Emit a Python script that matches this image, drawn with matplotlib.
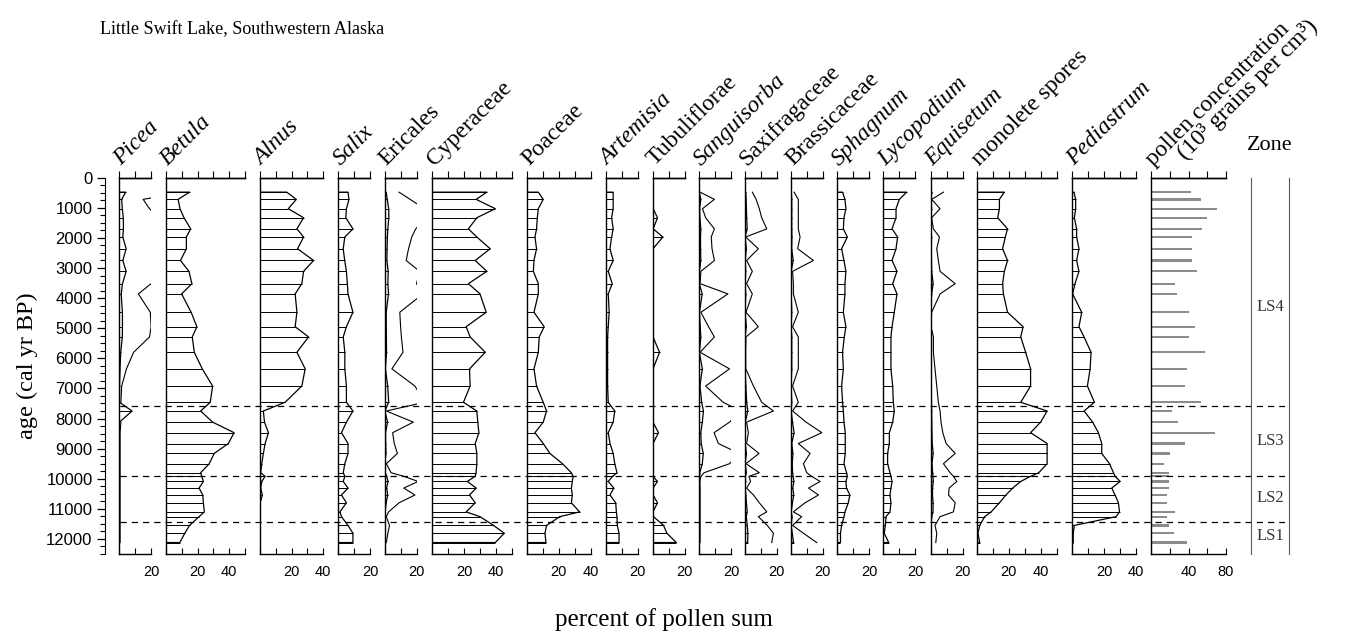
import numpy as np
import matplotlib
matplotlib.use("Agg")
import matplotlib.pyplot as plt
from matplotlib.ticker import MultipleLocator

# sample ages (cal yr BP)
ages = [480, 720, 1030, 1330, 1700, 1970, 2360, 2750, 3110, 3520, 3860, 4470,
        4950, 5290, 5800, 6350, 6920, 7460, 7750, 8120, 8470, 8830, 9160, 9500,
        9800, 9920, 10090, 10310, 10540, 10800, 11100, 11260, 11550, 11810, 12120]

# percentages
picea = [4.0, 1.5, 1.9, 2.5, 2.6, 2.2, 4.3, 2.2, 4.3, 2.0, 1.2, 1.95, 2.0, 1.9,
         0.9, 0.45, 0.15, 0.1, 8.0, 0.1, 0.05, 0.05, 0.05, 0.05, 0.05, 0.05,
         0.05, 0.05, 0.05, 0.05, 0.05, 0.05, 0.05, 0.05, 0.05]
betula = [15, 7.8, 9, 11.5, 15.7, 13, 13, 9.3, 14.6, 16.5, 10, 16, 19.6, 16.7,
          18, 23, 29.5, 28, 22, 29.5, 43, 39.4, 30.5, 27.4, 22, 22.7, 23.7, 21,
          23.3, 23.7, 24.3, 21, 15, 12, 8.9]
alnus = [17, 23, 18, 27.6, 23.4, 27.6, 23.8, 33.9, 27.6, 26.5, 22.3, 23.4, 22.3,
         30.7, 23.4, 28.6, 26.5, 16, 2.3, 3, 5.5, 3.4, 2.3, 1.3, 0.6, 3.4, 1.3,
         0.6, 1.7, 0.3, 0.3, 0.3, 0.3, 0.3, 0.3]
salix = [6.1, 6.7, 5.1, 4.7, 9.2, 4.1, 3.1, 4.0, 5.1, 5.7, 6.1, 9.2, 5.1, 3.1,
         4.1, 4.1, 5.1, 5.1, 9.2, 5.1, 2.0, 6.1, 6.1, 4.1, 3.1, 4.1, 3.1, 6.1,
         2.0, 5.1, 1.0, 2.0, 6.1, 9.2, 9.2]
ericales = [0.9, 1.6, 2.5, 2.6, 1.95, 1.7, 1.5, 1.35, 2.2, 2.0, 2.4, 0.95, 1.0,
            1.05, 1.15, 0.45, 1.9, 2.5, 0.1, 1.8, 0.5, 0.6, 0.8, 0.1, 0.4, 1.2,
            2.1, 1.2, 1.9, 0.9, 0.25, 0.1, 0.3, 0.2, 0.1]
cyperaceae = [34.3, 27.6, 39.6, 28, 22.7, 28, 36.4, 27, 34.3, 22.7, 30, 33.9,
              21.3, 23.8, 33.3, 23.4, 23.8, 19.6, 28, 28.6, 29.3, 27, 28, 28,
              27.5, 27, 22, 27.6, 23.4, 27, 21.3, 30, 38.5, 45.3, 39.6]
poaceae = [7.1, 10.2, 7.1, 6.5, 6, 5, 6, 4.4, 4, 7.1, 7.1, 4.4, 10.8, 7.7, 7.1,
           4.4, 6, 10.2, 12.3, 10.2, 5, 10.2, 14.4, 22.3, 27.9, 29, 28.5, 27.9,
           28.5, 27.9, 33.1, 20.6, 12.3, 11.3, 11.9]
artemisia = [4.7, 4.7, 4.7, 3.7, 4.7, 3.7, 2.7, 4.7, 1.6, 4.1, 1.6, 2.2, 1.6, 1.2,
             1.2, 1.2, 1.2, 1.6, 5.7, 4.7, 1.6, 2.7, 4.7, 5.7, 7.1, 4.3, 1.6, 5.1,
             2.7, 6.3, 6.7, 7.1, 7.3, 8.4, 8.4]
tubuliflorae = [0.2, 0.2, 0.3, 3.0, 0.3, 6.4, 0.2, 0.2, 0.2, 0.2, 0.2, 0.2, 0.2,
                0.2, 4.3, 0.2, 0.2, 0.2, 0.2, 0.2, 3.6, 0.2, 0.2, 0.2, 0.2, 0.2,
                3.0, 0.2, 0.2, 3.0, 0.2, 0.5, 6.8, 8.9, 14.9]
sanguisorba = [0.05, 0.95, 0.2, 0.4, 0.95, 0.75, 0.8, 0.95, 0.1, 0.05, 1.8, 0.1,
               0.58, 0.95, 0.05, 1.9, 0.4, 1.5, 2.6, 1.9, 0.93, 1.2, 2.5, 1.9,
               0.3, 0.1, 0.04, 0.05, 0.05, 0.05, 0.05, 0.05, 0.05, 0.05, 0.05]
saxifragaceae = [0.46, 0.7, 0.9, 1.05, 1.37, 0.04, 0.84, 0.1, 0.46, 0.1, 0.46,
                 0.06, 0.84, 0.06, 0.04, 0.05, 0.53, 1.05, 1.79, 0.1, 0.21, 0.1,
                 0.88, 0.06, 0.9, 0.25, 0.35, 0.1, 0.53, 0.9, 1.37, 0.84, 1.4,
                 1.79, 1.68]
brassicaceae = [0.19, 0.46, 0.46, 0.46, 0.46, 0.57, 0.42, 1.41, 0.1, 0.15, 0.15,
                0.46, 0.1, 0.46, 0.46, 0.46, 0.1, 0.46, 0.1, 0.95, 1.94, 0.46,
                1.2, 0.78, 0.99, 1.3, 1.83, 1.1, 1.73, 0.88, 0.15, 0.67, 0.1,
                0.78, 1.62]
sphagnum = [3.3, 4.8, 5.4, 4.2, 3.8, 6.3, 2.7, 4.2, 5.4, 4.8, 4.8, 3.8, 5.4, 4.4,
            3.3, 3.8, 2.7, 3.3, 3.8, 4.2, 5.0, 5.0, 5.0, 4.2, 5.8, 6.3, 5.4, 5.8,
            7.9, 6.9, 4.8, 4.2, 2.7, 2.0, 2.0]
lycopodium = [14.7, 10.1, 8, 8, 5.5, 9, 8, 5.5, 8.6, 5.9, 8.6, 6.9, 5.5, 4.8, 4.8,
              4.8, 5.9, 6.3, 6.9, 5.9, 3.8, 3.8, 2.7, 2.7, 4.2, 4.8, 5.5, 4.8,
              4.2, 4.8, 4.2, 1.7, 1.3, 0.6, 3.4]
equisetum = [0.8, 0.06, 0.59, 0.06, 0.17, 0.55, 0.38, 0.48, 0.59, 1.54, 0.59,
             0.06, 0.02, 0.17, 0.17, 0.27, 0.38, 0.48, 0.59, 0.65, 0.76, 0.97,
             1.54, 0.8, 1.22, 1.43, 1.64, 1.16, 1.12, 1.54, 1.43, 0.59, 0.27,
             0.38, 0.32]
monolete = [17.2, 14.1, 14.1, 13, 19.2, 17.8, 16.1, 19.2, 17.2, 16.1, 16.6, 19.2,
            29, 27.5, 30.6, 33.7, 33.7, 27.5, 44.1, 40, 33.7, 44.1, 44.1, 44.1,
            38.8, 33.7, 27.5, 22.4, 18.2, 14.1, 8.9, 4.8, 1.7, 0.6, 1.7]
pediastrum = [1, 2.1, 2.1, 1.3, 2.7, 2.7, 4.2, 2.7, 4.2, 1.7, 0.2, 5.9, 4.2, 7.4,
              11.8, 11.2, 9.5, 13.9, 7.4, 12.8, 16.4, 18.5, 18.5, 23.4, 25.9,
              26.9, 30.1, 24.8, 26.9, 29, 29.7, 27.5, 1.3, 0.6, 0.6]
# pollen concentration, 10^3 grains per cm^3
concentration = [42.5, 53, 70, 60, 54, 43.5, 43.5, 43.5, 48.8, 25.5, 27.3, 40,
                 46.7, 40, 57.7, 38.9, 36.5, 53, 22.3, 28.3, 68.3, 36.5, 20.2,
                 14.2, 18.7, 19, 19.4, 19.4, 17, 17, 25.5, 16.6, 18.7, 24.8, 37.9]

zone_bounds = [7600, 9900, 11450]
zone_names = ["LS4", "LS3", "LS2", "LS1"]
zone_label_ages = [4300, 8750, 10650, 11900]

W, H = 1351, 633
TOP, BOT = 177.7, 554.0
PX = 1.59          # pixels per percent
AGE_MAX = 12500
SERIF = "Liberation Serif"
SANS = "Liberation Sans"

# label, values, x max, italic, exaggerated x10 curve, left edge (px)
panels = [
    ("Picea", picea, 20, True, True, 119.3),
    ("Betula", betula, 50, True, False, 165.7),
    ("Alnus", alnus, 40, True, False, 259.7),
    ("Salix", salix, 20, True, False, 338.3),
    ("Ericales", ericales, 20, False, True, 384.7),
    ("Cyperaceae", cyperaceae, 50, False, False, 432.3),
    ("Poaceae", poaceae, 40, False, False, 527.0),
    ("Artemisia", artemisia, 20, True, False, 605.7),
    ("Tubuliflorae", tubuliflorae, 20, False, False, 652.7),
    ("Sanguisorba", sanguisorba, 20, True, True, 699.3),
    ("Saxifragaceae", saxifragaceae, 20, False, True, 745.0),
    ("Brassicaceae", brassicaceae, 20, False, True, 791.0),
    ("Sphagnum", sphagnum, 20, True, False, 837.3),
    ("Lycopodium", lycopodium, 20, True, False, 883.3),
    ("Equisetum", equisetum, 20, True, True, 930.7),
    ("monolete spores", monolete, 50, False, False, 977.0),
    ("Pediastrum", pediastrum, 40, True, False, 1072.3),
]

fig = plt.figure(figsize=(W / 100, H / 100), dpi=100)


def add_ax(x0, w):
    ax = fig.add_axes([x0 / W, 1 - BOT / H, w / W, (BOT - TOP) / H])
    ax.set_ylim(AGE_MAX, 0)
    ax.patch.set_visible(False)
    return ax


def style_x(ax, xmax, step, labelled):
    ax.set_xlim(0, xmax)
    ax.set_yticks([])
    ax.spines["right"].set_visible(False)
    for s in ax.spines.values():
        s.set_linewidth(1.0)
    ax.set_xticks(labelled)
    ax.set_xticklabels([str(v) for v in labelled], fontfamily=SANS, fontsize=10.5)
    ax.xaxis.set_minor_locator(MultipleLocator(step))
    ax.tick_params(axis="x", which="both", direction="in", length=4, width=0.8, pad=8)
    top = ax.secondary_xaxis("top")
    ticks = np.arange(0, xmax + 1, step)
    top.set_xticks(ticks, labels=[""] * len(ticks))
    top.tick_params(direction="out", length=5, width=0.8)
    top.spines["top"].set_linewidth(1.0)


def taxon_label(x0, text, italic, dx=2, y=166):
    fig.text((x0 + dx) / W, 1 - y / H, text, rotation=45, rotation_mode="anchor",
             ha="left", va="baseline", fontsize=17, fontfamily=SERIF,
             fontstyle="italic" if italic else "normal")


for label, vals, xmax, italic, exag, x0 in panels:
    ax = add_ax(x0, xmax * PX)
    ax.fill_betweenx(ages, 0, vals, facecolor="none", edgecolor="black", lw=0.9)
    ax.hlines(ages, 0, vals, color="black", lw=0.7)
    if exag:
        x10 = np.array(vals) * 10.0
        # drop points far beyond the panel so only edge crossings remain
        x10[x10 > 3 * xmax] = np.nan
        ax.plot(x10, ages, color="black", lw=0.8)
    style_x(ax, xmax, 10, [20, 40] if xmax > 20 else [20])
    taxon_label(x0, label, italic)

# pollen concentration
cax = add_ax(1151, 75)
cax.barh(ages, concentration, height=75, color="0.55", lw=0)
style_x(cax, 80, 20, [40, 80])
taxon_label(1151, "pollen concentration", False)
taxon_label(1185, "(10\u00b3 grains per cm\u00b3)", False, dx=0, y=160)

# age axis
yax = add_ax(105, 0.5)
for k in ("right", "top", "bottom"):
    yax.spines[k].set_visible(False)
yax.set_xticks([])
yax.set_yticks(np.arange(0, 12001, 1000))
yax.yaxis.set_minor_locator(MultipleLocator(250))
yax.tick_params(axis="y", which="major", length=6, width=0.9, labelsize=12, pad=3)
yax.tick_params(axis="y", which="minor", length=3.5, width=0.8)
for t in yax.get_yticklabels():
    t.set_fontfamily(SANS)
yax.set_ylabel("age (cal yr BP)", fontfamily=SERIF, fontsize=17.5, labelpad=6)

# zone boundaries across the diagram
zax = add_ax(120, 1285 - 120)
zax.axis("off")
zax.hlines(zone_bounds, 0, 1, transform=zax.get_yaxis_transform(), colors="black",
           linestyles=(0, (5, 4)), lw=0.9)

# zone column
zc = add_ax(1251, 38)
zc.set_xticks([])
zc.set_yticks([])
for k in ("top", "bottom"):
    zc.spines[k].set_visible(False)
for k in ("left", "right"):
    zc.spines[k].set_color("0.35")
    zc.spines[k].set_linewidth(0.8)
for name, a in zip(zone_names, zone_label_ages):
    zc.text(0.5, a, name, transform=zc.get_yaxis_transform(), ha="center",
            va="center", fontsize=12, fontfamily=SERIF, color="0.2")

fig.text(1270 / W, 1 - 145 / H, "Zone", ha="center", va="center",
         fontsize=16, fontfamily=SERIF)
fig.text(100 / W, 1 - 30 / H, "Little Swift Lake, Southwestern Alaska",
         ha="left", va="center", fontsize=13, fontfamily=SERIF)
fig.text(664 / W, 1 - 620 / H, "percent of pollen sum", ha="center",
         va="center", fontsize=18, fontfamily=SERIF)

fig.savefig("out.png", dpi=100, facecolor="white")
